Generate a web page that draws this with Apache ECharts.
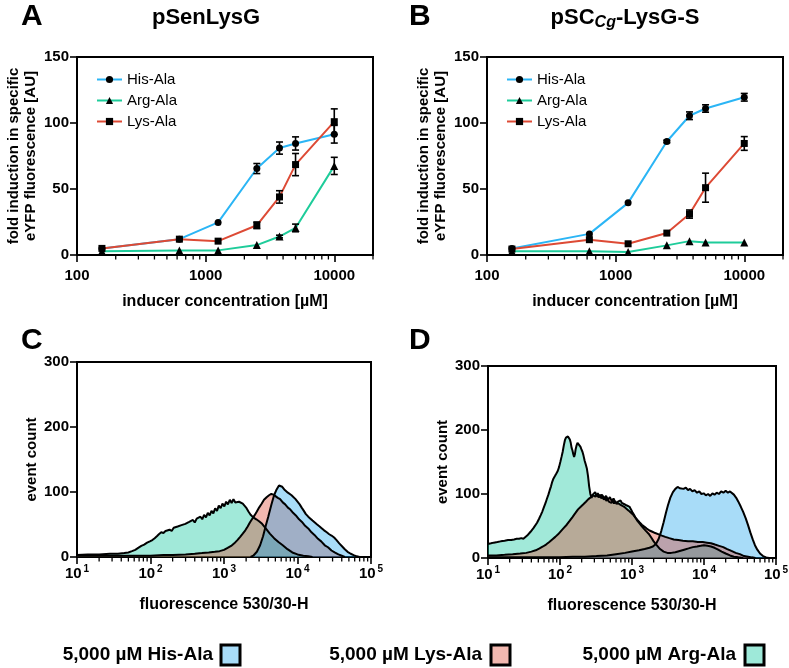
<!DOCTYPE html>
<html><head><meta charset="utf-8">
<script src="https://cdn.jsdelivr.net/npm/echarts@6/dist/echarts.min.js"></script>
<style>html,body{margin:0;padding:0;background:#fff}#c{width:789px;height:668px}</style>
</head><body><div id="c"></div>
<script>
const FONT = '"Liberation Sans", Arial, Helvetica, sans-serif';

// ---------- dose-response data (panels A, B) ----------
const seriesNames = ['His-Ala', 'Arg-Ala', 'Lys-Ala'];
const concentrations = [156.25, 625, 1250, 2500, 3750, 5000, 10000];
const aHis = [5, 12, 24.7, 65.5, 81, 84.5, 91.5];
const aHisErr = [0, 0, 0, 3.8, 4.6, 5, 6.7];
const aArg = [2.8, 3.5, 3.5, 7.5, 14, 20.5, 67.5];
const aArgErr = [0, 0, 0, 0, 1, 2.9, 6.5];
const aLys = [5, 12, 10.5, 22.5, 44, 68.5, 101];
const aLysErr = [0, 0, 0, 2.5, 4.7, 8.4, 9.7];
const bHis = [5, 16, 39.5, 86, 105.5, 111, 119.5];
const bHisErr = [0, 0, 0, 1, 2.9, 2.8, 2.9];
const bArg = [2.8, 2.8, 2.3, 7.3, 10.5, 9.5, 9.5];
const bArgErr = [0, 0, 0, 0, 0, 0, 0];
const bLys = [4.5, 11.6, 8.5, 16.6, 31, 51, 84.5];
const bLysErr = [0, 0, 0, 0, 3.1, 11, 5.2];

// ---------- histogram data (panels C, D): [fluorescence, event count] ----------
const cArg = [[10,3],[14,4],[20,4],[28,5],[36,5],[44,6],[50,7],[56,9],[62,11],[68,14],[75,17],[82,19],[90,22],[98,24],[106,26],[114,29],[122,32],[130,35],[140,38],[150,37],[160,40],[170,38],[182,42],[194,40],[207,45],[220,42],[234,47],[248,44],[264,49],[280,46],[298,51],[316,48],[336,54],[356,51],[378,57],[400,53],[425,59],[450,56],[478,62],[506,58],[536,65],[568,61],[602,68],[638,64],[676,71],[716,67],[758,75],[803,71],[850,79],[900,75],[953,82],[1010,78],[1070,85],[1130,81],[1200,88],[1270,83],[1345,89],[1425,84],[1510,87],[1600,85],[1700,86],[1800,82],[1900,80],[2000,76],[2150,70],[2300,65],[2500,61],[2750,58],[3000,55],[3300,51],[3700,44],[4200,36],[4800,29],[5500,23],[6300,18],[7300,12],[8500,7],[10000,4],[12000,2],[14000,1],[16000,0]];
const cLys = [[10,2],[30,2],[60,2],[100,2],[150,3],[200,3],[300,4],[400,5],[500,6],[620,7],[750,8],[870,9],[1000,11],[1120,14],[1250,17],[1380,21],[1520,26],[1660,31],[1800,36],[1950,41],[2100,47],[2250,53],[2400,58],[2600,64],[2800,70],[3000,76],[3250,82],[3500,88],[3800,92],[4100,95],[4400,97],[4700,96],[5000,94],[5400,91],[5800,89],[6300,84],[6800,81],[7400,76],[8000,73],[8700,68],[9500,64],[10500,58],[11500,54],[12700,48],[14000,44],[15500,38],[17000,34],[19000,28],[21000,24],[23500,18],[26000,15],[29000,10],[32000,7],[36000,4],[40000,2],[44000,0]];
const cHis = [[2300,0],[2500,2],[2800,8],[3100,18],[3400,32],[3700,48],[4000,62],[4400,80],[4800,95],[5200,104],[5600,110],[5900,107],[6200,108],[6600,104],[7000,102],[7400,99],[7800,97],[8300,95],[8800,92],[9400,89],[10000,86],[10700,81],[11400,76],[12200,71],[13000,66],[14000,62],[15000,59],[16000,56],[17200,53],[18500,50],[20000,47],[21500,44],[23000,41],[25000,38],[27000,35],[29000,33],[31500,30],[34000,26],[37000,21],[40000,17],[44000,12],[48000,8],[53000,5],[58000,3],[64000,1],[70000,0]];
const dArg = [[10,22],[11,23],[12,24],[13.5,25],[15,26],[17,27],[19,28],[21,28],[23,29],[25,30],[27,30],[29,31],[31,30],[33,33],[35,35],[37,38],[39,41],[41,44],[43,47],[45,50],[48,55],[51,61],[54,67],[57,73],[60,80],[63,86],[66,93],[69,99],[72,106],[75,112],[78,119],[81,124],[85,128],[89,132],[93,136],[97,142],[101,150],[105,158],[109,166],[113,176],[117,184],[121,188],[125,186],[129,190],[133,192],[137,185],[141,180],[145,172],[149,168],[153,162],[157,158],[161,162],[165,170],[170,176],[175,180],[180,183],[186,178],[192,174],[198,170],[205,166],[212,160],[220,152],[228,146],[236,140],[245,128],[254,112],[264,100],[274,94],[285,99],[296,96],[308,103],[320,98],[333,101],[346,95],[360,99],[375,93],[390,97],[406,91],[423,95],[440,89],[458,93],[477,88],[497,91],[518,86],[540,90],[563,85],[587,89],[612,84],[638,88],[665,85],[693,90],[722,86],[752,89],[784,84],[817,87],[851,82],[887,85],[925,80],[965,76],[1010,72],[1060,68],[1120,63],[1190,58],[1270,54],[1360,50],[1460,46],[1570,42],[1700,38],[1850,32],[2000,26],[2200,20],[2450,14],[2750,10],[3100,8],[3500,8],[4000,9],[4600,11],[5300,13],[6100,15],[7000,17],[8000,18],[9000,19],[10000,20],[11200,19],[12500,18],[14000,16],[15700,13],[17600,10],[20000,7],[23000,4],[26000,2],[30000,1],[35000,0]];
const dLys = [[10,4],[13,4],[17,5],[22,6],[28,7],[34,8],[40,10],[46,12],[52,15],[58,18],[64,21],[71,25],[78,29],[86,33],[94,37],[103,42],[113,47],[124,52],[136,58],[149,64],[163,70],[178,76],[194,80],[211,84],[229,88],[248,92],[268,95],[289,98],[311,96],[334,101],[358,95],[383,99],[409,93],[436,97],[464,91],[493,95],[523,89],[554,93],[586,87],[619,90],[653,85],[688,88],[724,82],[761,84],[800,79],[850,76],[900,74],[960,71],[1030,68],[1100,64],[1180,60],[1270,56],[1370,52],[1480,49],[1600,46],[1750,43],[1920,41],[2100,39],[2350,37],[2600,35],[2900,33],[3300,31],[3800,29],[4400,28],[5100,27],[6000,26],[7000,26],[8200,25],[9600,25],[11000,24],[12500,23],[14200,21],[16200,19],[18500,17],[21000,14],[24000,11],[27500,8],[31500,6],[36000,3],[41000,2],[46000,1],[52000,0]];
const dHis = [[10,1],[30,1],[60,1],[100,1],[150,2],[220,2],[320,3],[450,4],[600,6],[800,8],[1000,10],[1250,12],[1500,14],[1750,16],[1950,18],[2150,22],[2350,30],[2550,42],[2750,56],[2950,70],[3150,82],[3400,94],[3700,103],[4000,108],[4300,111],[4600,109],[4900,111],[5200,108],[5600,110],[6000,106],[6400,108],[6900,104],[7400,106],[8000,102],[8600,104],[9200,100],[9900,101],[10600,98],[11400,100],[12200,97],[13100,101],[14000,99],[15000,102],[16100,100],[17300,104],[18600,102],[20000,105],[21500,102],[23000,104],[24500,103],[26000,99],[28000,94],[30000,88],[32500,80],[35000,72],[38000,62],[41000,51],[44000,40],[47500,29],[51000,20],[55000,13],[60000,7],[66000,3],[73000,1],[80000,0]];

const legendLabels = ['5,000 µM His-Ala', '5,000 µM Lys-Ala', '5,000 µM Arg-Ala'];

// ---------- styling ----------
const lineColors = { 'His-Ala': '#2bb5f5', 'Arg-Ala': '#1ecc9a', 'Lys-Ala': '#dd4a35' };
const fillColors = { 'His-Ala': 'rgba(20,160,236,0.37)', 'Arg-Ala': 'rgba(0,195,152,0.37)', 'Lys-Ala': 'rgba(220,63,41,0.37)' };
const boxColors = ['#a8dcf8', '#f2b8b0', '#9ee9d9'];

const grids = [
  { left: 77, top: 57, width: 296, height: 198 },
  { left: 487, top: 57, width: 296, height: 198 },
  { left: 77, top: 362, width: 294, height: 195 },
  { left: 488, top: 366, width: 288, height: 192 }
].map(g => Object.assign({ show: true, borderColor: '#000', borderWidth: 2, backgroundColor: 'transparent', containLabel: false, outerBoundsMode: 'none' }, g));

const axisLine = { show: true, lineStyle: { color: '#000', width: 2 } };
const tick = { show: true, inside: false, length: 7, lineStyle: { color: '#000', width: 1.6 } };

function doseX(gi) {
  return {
    type: 'log', logBase: 10, gridIndex: gi, min: 100, max: 20000,
    axisLine, axisTick: tick, minorTick: { show: false }, splitLine: { show: false },
    axisLabel: { color: '#000', fontSize: 15, fontWeight: 'bold', fontFamily: FONT, margin: 13, showMaxLabel: false,
      formatter: v => String(Math.round(v)) },
    name: 'inducer concentration [µM]', nameLocation: 'middle', nameGap: 39,
    nameTextStyle: { color: '#000', fontSize: 16, fontWeight: 'bold', fontFamily: FONT }
  };
}
function histX(gi) {
  return {
    type: 'log', logBase: 10, gridIndex: gi, min: 10, max: 100000,
    axisLine, axisTick: tick, minorTick: { show: false }, splitLine: { show: false },
    axisLabel: { margin: 7, showMaxLabel: true, showMinLabel: true,
      formatter: v => '{b|10}{s|' + Math.round(Math.log10(v)) + '}',
      rich: {
        b: { color: '#000', fontSize: 15, fontWeight: 'bold', fontFamily: FONT, lineHeight: 20 },
        s: { color: '#000', fontSize: 10, fontWeight: 'bold', fontFamily: FONT, lineHeight: 12, verticalAlign: 'top', padding: [0, 0, 0, 2] }
      } },
    name: 'fluorescence 530/30-H', nameLocation: 'middle', nameGap: 40,
    nameTextStyle: { color: '#000', fontSize: 16, fontWeight: 'bold', fontFamily: FONT }
  };
}
function yAxis(gi, max, interval, name, gap) {
  return {
    type: 'value', gridIndex: gi, min: 0, max, interval,
    axisLine, axisTick: tick, splitLine: { show: false },
    axisLabel: { color: '#000', fontSize: 15, fontWeight: 'bold', fontFamily: FONT, margin: 8 },
    name, nameLocation: 'middle', nameRotate: 90, nameGap: gap,
    nameTextStyle: { color: '#000', fontSize: 15, fontWeight: 'bold', fontFamily: FONT, lineHeight: 17 }
  };
}

function doseSeries(gi, name, vals, symbol, size) {
  return {
    type: 'line', name, xAxisIndex: gi, yAxisIndex: gi,
    data: concentrations.map((c, i) => [c, vals[i]]),
    symbol, symbolSize: size, showSymbol: true, itemStyle: { color: '#000' },
    lineStyle: { color: lineColors[name], width: 2 }, z: 3, silent: true
  };
}
function errSeries(gi, vals, errs) {
  return {
    type: 'custom', xAxisIndex: gi, yAxisIndex: gi, silent: true, z: 4,
    data: concentrations.map((c, i) => [c, vals[i], errs[i]]),
    renderItem(params, api) {
      const x = api.value(0), y = api.value(1), e = api.value(2);
      if (!e) return null;
      const t = api.coord([x, y + e]), b = api.coord([x, y - e]);
      const w = 3.5, st = { stroke: '#000', lineWidth: 1.6 };
      return { type: 'group', children: [
        { type: 'line', shape: { x1: t[0], y1: t[1], x2: b[0], y2: b[1] }, style: st },
        { type: 'line', shape: { x1: t[0] - w, y1: t[1], x2: t[0] + w, y2: t[1] }, style: st },
        { type: 'line', shape: { x1: b[0] - w, y1: b[1], x2: b[0] + w, y2: b[1] }, style: st }
      ] };
    }
  };
}
function histSeries(gi, name, pts) {
  return {
    type: 'line', name: 'hist ' + name + ' ' + gi, xAxisIndex: gi, yAxisIndex: gi, data: pts,
    symbol: 'none', showSymbol: false, silent: true,
    lineStyle: { color: '#000', width: 2 },
    areaStyle: { color: fillColors[name], opacity: 1 }, z: 2
  };
}
function minorTicks(gi, from, to) {
  const vals = [];
  for (let d = from; d < to; d *= 10) for (let k = 2; k <= 9; k++) if (d * k <= to) vals.push(d * k);
  return {
    type: 'custom', xAxisIndex: gi, yAxisIndex: gi, silent: true, z: 10, clip: false,
    data: vals.map(v => [v, 0]),
    renderItem(params, api) {
      const p = api.coord([api.value(0), api.value(1)]);
      return { type: 'line', shape: { x1: p[0], y1: p[1] + 1, x2: p[0], y2: p[1] + 4.5 }, style: { stroke: '#000', lineWidth: 1.3 } };
    }
  };
}

const legendBase = {
  orient: 'vertical', itemWidth: 25, itemHeight: 9, itemGap: 6, data: seriesNames,
  textStyle: { color: '#000', fontSize: 15, fontFamily: FONT }, selectedMode: false
};

const graphic = [
  { type: 'text', x: 21, y: 2, style: { text: 'A', fontSize: 30, fontWeight: 'bold', fontFamily: FONT, fill: '#000' } },
  { type: 'text', x: 409, y: 2, style: { text: 'B', fontSize: 30, fontWeight: 'bold', fontFamily: FONT, fill: '#000' } },
  { type: 'text', x: 21, y: 326, style: { text: 'C', fontSize: 30, fontWeight: 'bold', fontFamily: FONT, fill: '#000' } },
  { type: 'text', x: 409, y: 326, style: { text: 'D', fontSize: 30, fontWeight: 'bold', fontFamily: FONT, fill: '#000' } },
  { type: 'text', x: 206, y: 18, style: { text: 'pSenLysG', fontSize: 22, fontWeight: 'bold', fontFamily: FONT, fill: '#000', align: 'center', verticalAlign: 'middle', textAlign: 'center', textVerticalAlign: 'middle' } },
  { type: 'text', x: 625, y: 18, style: { text: '{a|pSC}{s|Cg}{a|-LysG-S}', fill: '#000', align: 'center', verticalAlign: 'middle', textAlign: 'center', textVerticalAlign: 'middle',
    rich: { a: { fontSize: 22, fontWeight: 'bold', fontFamily: FONT, lineHeight: 26, fill: '#000' },
            s: { fontSize: 16, fontWeight: 'bold', fontStyle: 'italic', fontFamily: FONT, lineHeight: 16, verticalAlign: 'bottom', fill: '#000' } } } }
];
const legendTextRight = [213, 482, 736];
const legendBoxLeft = [221, 491, 745];
legendLabels.forEach((t, i) => {
  graphic.push({ type: 'text', x: legendTextRight[i], y: 655, style: { text: t, fontSize: 19, fontWeight: 'bold', fontFamily: FONT, fill: '#000', align: 'right', verticalAlign: 'middle', textAlign: 'right', textVerticalAlign: 'middle' } });
  graphic.push({ type: 'rect', shape: { x: legendBoxLeft[i], y: 645, width: 19, height: 20 }, style: { fill: boxColors[i], stroke: '#000', lineWidth: 3 } });
});

const option = {
  animation: false,
  textStyle: { fontFamily: FONT },
  grid: grids,
  xAxis: [doseX(0), doseX(1), histX(2), histX(3)],
  yAxis: [
    yAxis(0, 150, 50, 'fold induction in specific\neYFP fluorescence [AU]', 38),
    yAxis(1, 150, 50, 'fold induction in specific\neYFP fluorescence [AU]', 38),
    yAxis(2, 300, 100, 'event count', 37),
    yAxis(3, 300, 100, 'event count', 36)
  ],
  legend: [
    Object.assign({ left: 91, top: 67 }, legendBase),
    Object.assign({ left: 501, top: 67 }, legendBase)
  ],
  graphic,
  series: [
    // panel C: Arg (bottom), Lys, His (top)
    histSeries(2, 'Arg-Ala', cArg), histSeries(2, 'Lys-Ala', cLys), histSeries(2, 'His-Ala', cHis),
    // panel D: Arg (bottom), His, Lys (top)
    histSeries(3, 'Arg-Ala', dArg), histSeries(3, 'His-Ala', dHis), histSeries(3, 'Lys-Ala', dLys),
    doseSeries(0, 'His-Ala', aHis, 'circle', 7),
    doseSeries(0, 'Arg-Ala', aArg, 'triangle', 8),
    doseSeries(0, 'Lys-Ala', aLys, 'rect', 7),
    doseSeries(1, 'His-Ala', bHis, 'circle', 7),
    doseSeries(1, 'Arg-Ala', bArg, 'triangle', 8),
    doseSeries(1, 'Lys-Ala', bLys, 'rect', 7),
    errSeries(0, aHis, aHisErr), errSeries(0, aArg, aArgErr), errSeries(0, aLys, aLysErr),
    errSeries(1, bHis, bHisErr), errSeries(1, bArg, bArgErr), errSeries(1, bLys, bLysErr),
    minorTicks(0, 100, 20000), minorTicks(1, 100, 20000),
    minorTicks(2, 10, 100000), minorTicks(3, 10, 100000)
  ]
};
const chart = echarts.init(document.getElementById('c'), null, { renderer: 'canvas' });
chart.setOption(option);
</script></body></html>
